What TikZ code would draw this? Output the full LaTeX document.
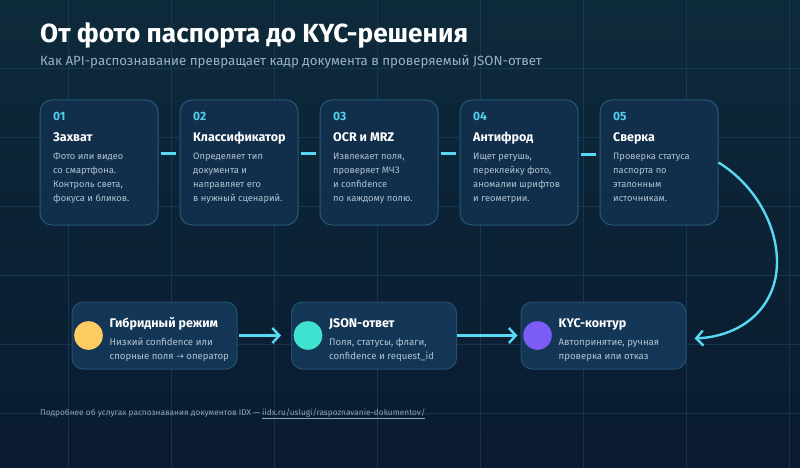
\documentclass[tikz,border=0pt]{standalone}
\usepackage{fontspec}
\setmainfont{Fira Sans}
\newfontfamily\djv{DejaVu Sans}
\usetikzlibrary{arrows.meta,calc}
\definecolor{bgtop}{HTML}{0D2A3B}
\definecolor{bgbot}{HTML}{0A1A30}
\definecolor{gridc}{HTML}{1C4560}
\definecolor{boxfill}{HTML}{12304D}
\definecolor{boxline}{HTML}{24597A}
\definecolor{boxfillb}{HTML}{15395A}
\definecolor{boxlineb}{HTML}{22506F}
\definecolor{cyanl}{HTML}{58D8F2}
\definecolor{numc}{HTML}{52D0EE}
\definecolor{descc}{HTML}{B2C3D3}
\definecolor{subc}{HTML}{9CB2C5}
\definecolor{footc}{HTML}{8FA3B8}
\definecolor{yel}{HTML}{FDCB62}
\definecolor{turq}{HTML}{3FE2CF}
\definecolor{purp}{HTML}{7B5CF4}
\newcommand\stepcard[5]{%
  \node[topbox] (#1) at (#2,162.5) {};
  \node[numtxt] (#1n) at (#2-46,121) {#3};
  \node[ttltxt] (#1t) at (#2-46,141.5) {#4};
  \node[desctxt] (#1d) at (#2-46,201) {#5};
}
\newcommand\resultcard[6]{%
  \node[botbox] (#1) at (#2,335.5) {};
  \fill[#3] ($(#1.west)+(17,0)$) circle[radius=14.3];
  \node[bttl] (#1t) at ($(#1.west)+(38,-8.5)$) {#4};
  \node[bdesc] (#1d) at ($(#1.west)+(38,23.5)$) {#5\\#6};
}
\begin{document}
\begin{tikzpicture}[x=1pt,y=-1pt,
  topbox/.style={draw=boxline, line width=1pt, fill=boxfill, fill opacity=0.92, rounded corners=12pt, minimum width=118pt, minimum height=125pt, inner sep=0pt},
  botbox/.style={draw=boxlineb, line width=1pt, fill=boxfillb, fill opacity=0.92, rounded corners=11pt, minimum width=165pt, minimum height=67pt, inner sep=0pt},
  numtxt/.style={anchor=base west, inner sep=0pt, text=numc, font=\fontsize{12}{14}\selectfont\bfseries},
  ttltxt/.style={anchor=base west, inner sep=0pt, text=white, font=\fontsize{12.5}{15}\selectfont\bfseries},
  desctxt/.style={anchor=base west, inner sep=0pt, text=descc, align=left, font=\fontsize{9.3}{14}\selectfont},
  bttl/.style={anchor=base west, inner sep=0pt, text=white, font=\fontsize{12.5}{15}\selectfont\bfseries},
  bdesc/.style={anchor=base west, inner sep=0pt, text=descc, align=left, font=\fontsize{9.6}{13.5}\selectfont},
  link/.style={draw=cyanl, line width=2.4pt},
  arr/.style={link, -{Straight Barb[length=7pt,width=15pt,line width=2.4pt]}},
  gridl/.style={draw=gridc, line width=0.7pt, opacity=0.6}
]
\useasboundingbox (0,0) rectangle (800,468);
\shade[top color=bgtop, bottom color=bgbot] (0,0) rectangle (800,468);
\foreach \x in {68,171,274,377,480,583,686,789} \draw[gridl] (\x,0) -- (\x,468);
\foreach \y in {68,137,206,275,344,413} \draw[gridl] (0,\y) -- (800,\y);

\node[anchor=base west, inner sep=0pt, text=white, font=\fontsize{26.2}{29}\selectfont\bfseries] (title) at (40,43) {От фото паспорта до KYC-решения};
\node[anchor=base west, inner sep=0pt, text=subc, font=\fontsize{13.3}{16}\selectfont] (sub) at (40,66) {Как API-распознавание превращает кадр документа в проверяемый JSON-ответ};

\stepcard{s1}{99}{01}{Захват}{Фото или видео\\со смартфона.\\Контроль света,\\фокуса и бликов.}
\stepcard{s2}{239}{02}{Классификатор}{Определяет тип\\документа и\\направляет его\\в нужный сценарий.}
\stepcard{s3}{379}{03}{OCR и MRZ}{Извлекает поля,\\проверяет МЧЗ\\и confidence\\по каждому полю.}
\stepcard{s4}{519}{04}{Антифрод}{Ищет ретушь,\\переклейку фото,\\аномалии шрифтов\\и геометрии.}
\stepcard{s5}{659}{05}{Сверка}{Проверка статуса\\паспорта по\\эталонным\\источникам.}

\draw[link] ([shift={(2pt,9pt)}]s1.east) -- ([shift={(-4pt,9pt)}]s2.west);
\draw[link] ([shift={(2pt,9pt)}]s2.east) -- ([shift={(-4pt,9pt)}]s3.west);
\draw[link] ([shift={(2pt,9pt)}]s3.east) -- ([shift={(-4pt,9pt)}]s4.west);
\draw[link] ([shift={(2pt,8pt)}]s4.east) -- ([shift={(-4pt,8pt)}]s5.west);

\resultcard{hy}{154.5}{yel}{Гибридный режим}{Низкий confidence или}{спорные поля {\djv\fontsize{9}{13}\selectfont →} оператор}
\resultcard{js}{374}{turq}{JSON-ответ}{Поля, статусы, флаги,}{confidence и request\_id}
\resultcard{ky}{603.5}{purp}{KYC-контур}{Автопринятие, ручная}{проверка или отказ}

\draw[arr] ([xshift=1pt]hy.east) -- ([xshift=-10pt]js.west);
\draw[arr] (js.east) -- ([xshift=-3pt]ky.west);
\coordinate (kin) at ([shift={(8pt,-3pt)}]ky.east);
\draw[arr] (s5.east) .. controls (755,185) and (777,225) .. (777,262) .. controls (777,305) and (745,336) .. (kin);

\node[anchor=base west, inner sep=0pt, text=footc, font=\fontsize{8.3}{10}\selectfont] (foot) at (40,415) {Подробнее об услугах распознавания документов IDX — \underline{iidx.ru/uslugi/raspoznavanie-dokumentov/}};
\end{tikzpicture}
\end{document}
